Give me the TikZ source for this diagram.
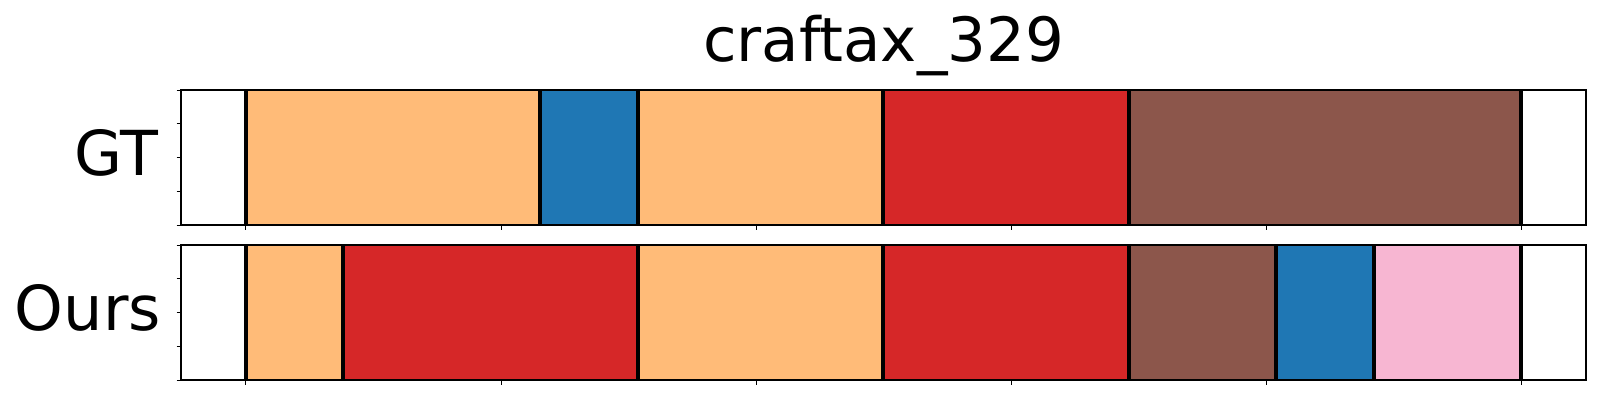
\documentclass[tikz,border=0pt]{standalone}
\usepackage{fontspec}
\setmainfont{DejaVu Sans}
\definecolor{segorange}{HTML}{FFBB78}
\definecolor{segblue}{HTML}{1F77B4}
\definecolor{segred}{HTML}{D62728}
\definecolor{segbrown}{HTML}{8C564B}
\definecolor{segpink}{HTML}{F7B6D2}
\begin{document}
\begin{tikzpicture}[x=1pt,y=-1pt,
  axframe/.style={draw=black,line width=1.1pt},
  bound/.style={draw=black,line width=4pt},
  tickmark/.style={draw=black,line width=1pt},
  bigtext/.style={font=\fontsize{62}{62}\selectfont, inner sep=0pt}]
\useasboundingbox[fill=white] (0,0) rectangle (1600,400);
% GT panel (top 90, bottom 225)
\foreach \a/\b/\c in {245.5/539.7/segorange, 539.7/638/segblue, 638/882.7/segorange, 882.7/1129/segred, 1129/1521/segbrown}
  \fill[\c] (\a,90) rectangle (\b,225);
\foreach \a in {245.5,539.7,638,882.7,1129,1521}
  \draw[bound] (\a,90) -- (\a,225);
% Ours panel (top 245, bottom 380)
\foreach \a/\b/\c in {245.5/342.7/segorange, 342.7/638/segred, 638/882.7/segorange, 882.7/1129/segred, 1129/1276/segbrown, 1276/1373.7/segblue, 1373.7/1521/segpink}
  \fill[\c] (\a,245) rectangle (\b,380);
\foreach \a in {245.5,342.7,638,882.7,1129,1276,1373.7,1521}
  \draw[bound] (\a,245) -- (\a,380);
% frames
\draw[axframe] (181,90) rectangle (1586,225);
\draw[axframe] (181,245) rectangle (1586,380);
% ticks
\foreach \t in {90,245}{
  \foreach \k in {0,1,2,3,4}
    \draw[tickmark] (176.5,\t+\k*33.75) -- (181,\t+\k*33.75);
  \foreach \x in {245.7,501,756.5,1011.7,1266.5,1521.7}
    \draw[tickmark] (\x,\t+135) -- (\x,\t+139.5);
}
% texts
\node[bigtext, font=\fontsize{61}{61}\selectfont, anchor=base] (title) at (883.5,61.7) {craftax\_329};
\node[bigtext, anchor=base east] (gt) at (158.5,175.7) {GT};
\node[bigtext, anchor=base east] (ours) at (161,330.5) {Ours};
\end{tikzpicture}
\end{document}
